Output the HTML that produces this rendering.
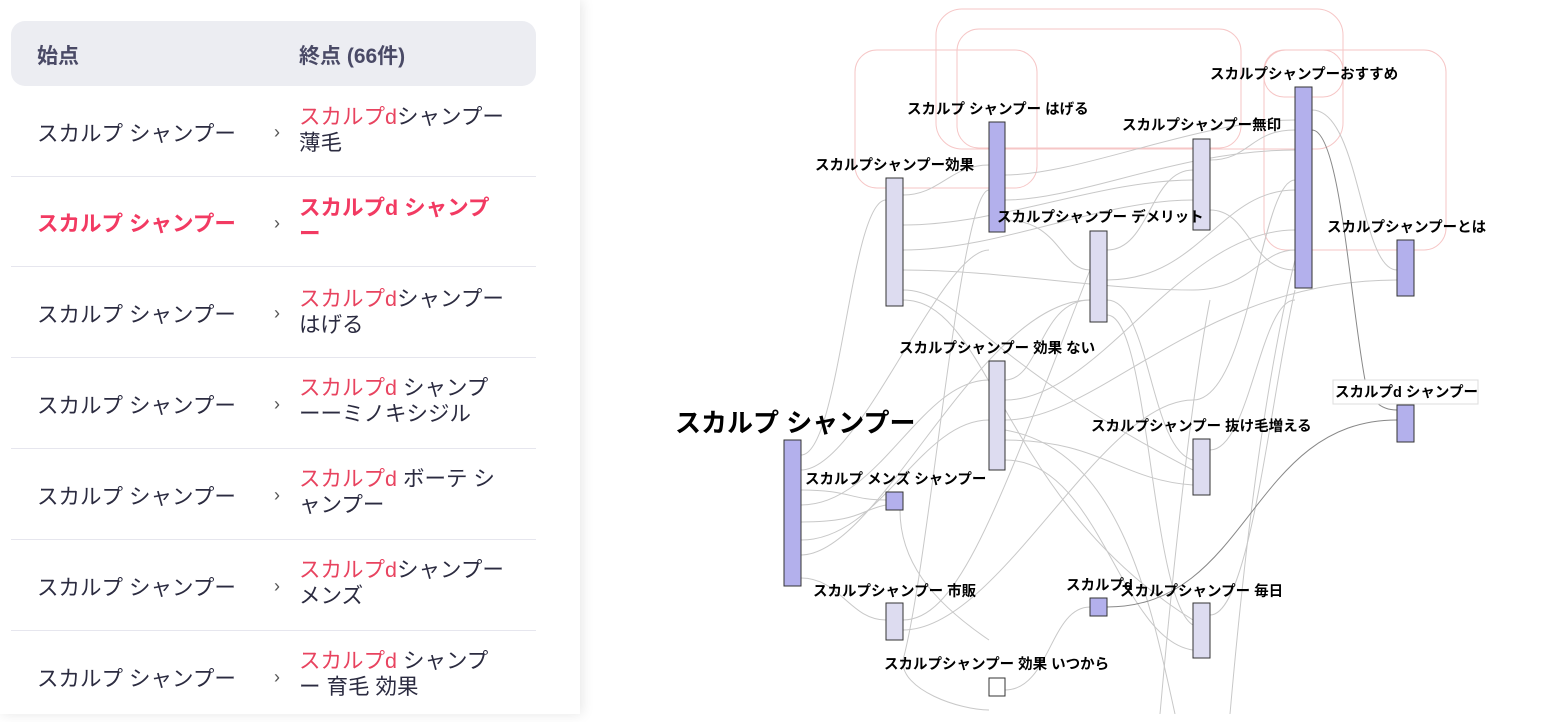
<!DOCTYPE html>
<html><head><meta charset="utf-8"><style>
*{margin:0;padding:0;box-sizing:border-box}
body{width:1560px;height:714px;overflow:hidden;background:#fff;font-family:"Liberation Sans","Noto Sans CJK JP",sans-serif;position:relative}
#left{position:absolute;left:0;top:0;width:580px;height:714px;background:#fff;box-shadow:2px 0 12px rgba(0,0,0,0.10);z-index:2}
.hdr{position:absolute;left:11px;top:21px;width:525px;height:65px;background:#ecedf2;border-radius:14px;font-weight:bold;color:#4a4a66;font-size:21px}
.hdr span{position:absolute;top:19px}
.row{position:absolute;left:11px;width:525px;border-bottom:1px solid #e6e6ee;color:#2b2b40;font-size:21.5px}
.row .a{position:absolute;left:26px}
.row .c{position:absolute;left:263px;font-size:18px;color:#555}
.row .b{position:absolute;left:288px;width:205px;line-height:26px;font-size:21.5px}
.r{color:#e8435f}
.sel{color:#f23a62;font-weight:bold}
svg{position:absolute;left:0;top:0}
svg text{font-family:"Liberation Sans","Noto Sans CJK JP",sans-serif;font-weight:bold;font-size:14.5px;fill:#000}
</style></head><body>
<div id="left">
<div class="hdr"><span style="left:26px">始点</span><span style="left:288px">終点 (66件)</span></div>
<div class="row" style="top:86px;height:91px"><span class="a" style="top:31px">スカルプ シャンプー</span><span class="c" style="top:36px">›</span><span class="b" style="top:18px"><span class="r">スカルプd</span>シャンプー薄毛</span></div>
<div class="row" style="top:177px;height:90px"><span class="a sel" style="top:30px">スカルプ シャンプー</span><span class="c" style="top:36px">›</span><span class="b sel" style="top:18px">スカルプd シャンプー</span></div>
<div class="row" style="top:267px;height:91px"><span class="a" style="top:31px">スカルプ シャンプー</span><span class="c" style="top:36px">›</span><span class="b" style="top:19px"><span class="r">スカルプd</span>シャンプーはげる</span></div>
<div class="row" style="top:358px;height:91px"><span class="a" style="top:31px">スカルプ シャンプー</span><span class="c" style="top:36px">›</span><span class="b" style="top:17px"><span class="r">スカルプd</span> シャンプーーミノキシジル</span></div>
<div class="row" style="top:449px;height:91px"><span class="a" style="top:31px">スカルプ シャンプー</span><span class="c" style="top:36px">›</span><span class="b" style="top:17px"><span class="r">スカルプd</span> ボーテ シャンプー</span></div>
<div class="row" style="top:540px;height:91px"><span class="a" style="top:31px">スカルプ シャンプー</span><span class="c" style="top:36px">›</span><span class="b" style="top:17px"><span class="r">スカルプd</span>シャンプーメンズ</span></div>
<div class="row" style="top:631px;height:91px;border:none"><span class="a" style="top:31px">スカルプ シャンプー</span><span class="c" style="top:36px">›</span><span class="b" style="top:17px"><span class="r">スカルプd</span> シャンプー 育毛 効果</span></div>
</div>
<svg width="1560" height="714" viewBox="0 0 1560 714">
<g fill="none" stroke="#f6c6c6" stroke-width="1">
<rect x="855" y="50" width="182" height="138" rx="22"/>
<rect x="936" y="9" width="407" height="140" rx="26"/>
<rect x="957" y="29" width="284" height="119" rx="22"/>
<rect x="1264" y="50" width="182" height="200" rx="22"/>
<rect x="1264" y="50" width="79" height="47" rx="20"/>
</g>
<g fill="none" stroke="#c8c8c8" stroke-width="1">
<path d="M801 455 C840 455 850 200 886 200"/>
<path d="M801 470 C860 470 940 250 989 250"/>
<path d="M801 490 C850 490 850 500 886 500"/>
<path d="M801 505 C880 505 920 380 989 380"/>
<path d="M801 522 C860 522 860 510 886 505"/>
<path d="M801 540 C880 540 920 420 989 420"/>
<path d="M801 555 C880 555 980 300 1090 300"/>
<path d="M801 578 C840 578 850 620 886 620"/>
<path d="M903 195 C940 195 950 165 989 165"/>
<path d="M903 225 C1000 225 1100 180 1193 180"/>
<path d="M903 250 C1000 250 1100 200 1193 200"/>
<path d="M903 270 C1000 270 1100 290 1193 290 C1250 290 1260 250 1295 250"/>
<path d="M903 290 C960 290 980 360 1193 470"/>
<path d="M903 300 C990 300 1000 500 1193 620"/>
<path d="M903 620 C960 620 1000 500 1090 270"/>
<path d="M903 630 C1000 630 1100 400 1193 400 C1250 400 1260 180 1295 180"/>
<path d="M1005 200 C1080 200 1180 150 1295 150"/>
<path d="M1005 175 C1080 175 1200 120 1295 120"/>
<path d="M1005 220 C1060 220 1060 270 1090 270"/>
<path d="M989 190 C960 190 930 560 903 660 C900 690 960 710 989 710"/>
<path d="M1005 380 C1040 380 1040 300 1090 300"/>
<path d="M1005 400 C1100 400 1180 230 1295 230"/>
<path d="M1005 420 C1100 420 1200 280 1397 280"/>
<path d="M1005 440 C1100 440 1120 480 1193 485"/>
<path d="M1005 460 C1100 460 1120 640 1193 650"/>
<path d="M1107 250 C1150 250 1150 170 1193 170"/>
<path d="M1107 280 C1200 280 1220 190 1295 190"/>
<path d="M1107 300 C1150 300 1150 450 1193 460"/>
<path d="M1107 315 C1150 315 1150 600 1193 625"/>
<path d="M1210 160 C1250 160 1250 130 1295 130"/>
<path d="M1210 210 C1250 210 1250 270 1295 270"/>
<path d="M1210 450 C1250 450 1260 300 1295 300"/>
<path d="M1210 615 C1250 615 1270 400 1295 290"/>
<path d="M1312 110 C1360 110 1360 270 1397 270"/>
<path d="M1005 690 C1050 690 1050 607 1090 607"/>
<path d="M1160 714 C1170 600 1190 400 1210 300"/>
<path d="M1230 714 C1240 600 1260 400 1295 260"/>
<path d="M1175 714 C1150 600 1120 450 1005 430"/>
<path d="M900 510 C900 560 930 600 989 640"/>
</g>
<g fill="none" stroke="#888" stroke-width="1">
<path d="M1107 607 C1250 607 1250 420 1397 420"/>
<path d="M1312 130 C1340 130 1350 300 1365 380 C1370 400 1380 410 1397 410"/>
</g>
<g stroke="#333" stroke-width="1">
<rect x="784" y="440" width="17" height="146" fill="#b3b0ec"/>
<rect x="886" y="178" width="17" height="128" fill="#dddcf0"/>
<rect x="989" y="122" width="16" height="110" fill="#b3b0ec"/>
<rect x="1193" y="139" width="17" height="91" fill="#dddcf0"/>
<rect x="1295" y="87" width="17" height="201" fill="#b3b0ec"/>
<rect x="1397" y="240" width="17" height="56" fill="#b3b0ec"/>
<rect x="1090" y="231" width="17" height="91" fill="#dddcf0"/>
<rect x="989" y="361" width="16" height="109" fill="#dddcf0"/>
<rect x="1193" y="439" width="17" height="56" fill="#dddcf0"/>
<rect x="1397" y="405" width="17" height="37" fill="#b3b0ec"/>
<rect x="886" y="492" width="17" height="18" fill="#b3b0ec"/>
<rect x="886" y="603" width="17" height="37" fill="#dddcf0"/>
<rect x="1090" y="598" width="17" height="18" fill="#b3b0ec"/>
<rect x="1193" y="603" width="17" height="55" fill="#dddcf0"/>
<rect x="989" y="678" width="16" height="18" fill="#fff"/>
</g>
<rect x="1333" y="380" width="145" height="24" fill="#fff" stroke="#ddd"/>
<text x="675" y="432" style="font-size:26px">スカルプ シャンプー</text>
<text x="815" y="170">スカルプシャンプー効果</text>
<text x="907" y="114">スカルプ シャンプー はげる</text>
<text x="1122" y="130">スカルプシャンプー無印</text>
<text x="1210" y="79">スカルプシャンプーおすすめ</text>
<text x="1327" y="232">スカルプシャンプーとは</text>
<text x="997" y="222">スカルプシャンプー デメリット</text>
<text x="899" y="353">スカルプシャンプー 効果 ない</text>
<text x="1091" y="431">スカルプシャンプー 抜け毛増える</text>
<text x="1335" y="397">スカルプd シャンプー</text>
<text x="805" y="484">スカルプ メンズ シャンプー</text>
<text x="813" y="596">スカルプシャンプー 市販</text>
<text x="1066" y="590">スカルプd</text>
<text x="1120" y="596">スカルプシャンプー 毎日</text>
<text x="884" y="669">スカルプシャンプー 効果 いつから</text>
</svg>
</body></html>
